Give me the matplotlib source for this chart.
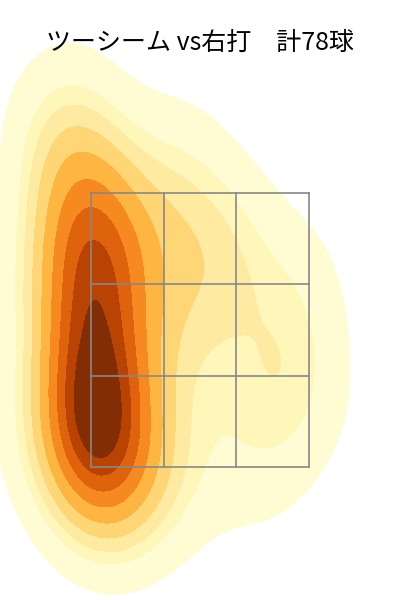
import matplotlib
matplotlib.use("Agg")
import matplotlib.pyplot as plt
import seaborn as sns

plt.rcParams['font.family'] = ['Noto Sans CJK JP', 'DejaVu Sans']

title = "ツーシーム vs右打　計78球"

# pitch locations (ft), catcher view
plate_x = [
    # left column
    -0.80, -0.76, -0.84, -0.79,
    -0.86, -0.78, -0.82, -0.74, -0.85, -0.80, -0.77, -0.88, -0.81, -0.79,
    -0.83, -0.76, -0.79, -0.84, -0.72, -0.80, -0.86, -0.78, -0.82, -0.81,
    -0.75, -0.88, -0.80, -0.83, -0.77, -0.85, -0.79,
    -0.90, -0.81, -0.74, -0.86, -0.80, -0.92, -0.83, -0.78,
    -0.84, -0.88, -0.82, -0.90, -0.86,
    # high-left
    -1.05, -0.98, -0.92, -1.12,
    # upper middle
    -0.40, -0.30, -0.20, -0.10, 0.00, 0.10, 0.20, 0.30, -0.25, 0.05,
    -0.50,
    # middle
    -0.40, -0.30, -0.05,
    # lower middle
    -0.45, -0.30, -0.60,
    # right
    0.45, 0.65, 0.70, 0.60, 0.50, 0.85, 0.80,
    # low
    -0.70, -0.40, 0.00, 0.45,
    # far left
    -1.25, -1.25,
]
plate_z = [
    1.34, 1.42, 1.47, 1.52,
    1.56, 1.60, 1.64, 1.68, 1.72, 1.76, 1.80, 1.84, 1.88, 1.93,
    1.97, 2.01, 2.05, 2.09, 2.13, 2.17, 2.21, 2.25, 2.29, 2.34,
    2.47, 2.53, 2.59, 2.65, 2.70, 2.75, 2.80,
    2.86, 2.93, 3.00, 3.07, 3.13, 3.20, 3.05, 3.25,
    3.27, 3.35, 3.43, 3.51, 3.60,
    3.80, 3.95, 4.10, 3.88,
    3.00, 3.40, 2.80, 3.60, 3.10, 2.90, 3.35, 3.05, 3.75, 2.70,
    3.20,
    2.10, 2.50, 2.20,
    1.45, 1.60, 1.35,
    1.80, 1.95, 2.40, 2.70, 2.20, 2.05, 2.90,
    1.40, 1.35, 1.45, 1.45,
    1.70, 2.80,
]

zone_x = [-0.83, -0.277, 0.277, 0.83]
zone_z = [1.5, 2.1667, 2.8333, 3.5]

fig = plt.figure(figsize=(4, 6), dpi=100)
ax = fig.add_axes([0, 0, 1, 1])
sns.kdeplot(x=plate_x, y=plate_z, fill=True, cmap='YlOrBr', levels=10,
            thresh=0.05, bw_adjust=1.2, ax=ax)

for zx in zone_x:
    ax.plot([zx, zx], [zone_z[0], zone_z[-1]], color='#888888', lw=1.2)
for zz in zone_z:
    ax.plot([zone_x[0], zone_x[-1]], [zz, zz], color='#888888', lw=1.2)

ax.set_xlim(-1.523, 1.523)
ax.set_ylim(0.529, 4.909)
ax.axis('off')

fig.text(0.5, 1 - 43 / 600, title, ha='center', va='center', fontsize=18)

fig.savefig('out.png', dpi=100)
